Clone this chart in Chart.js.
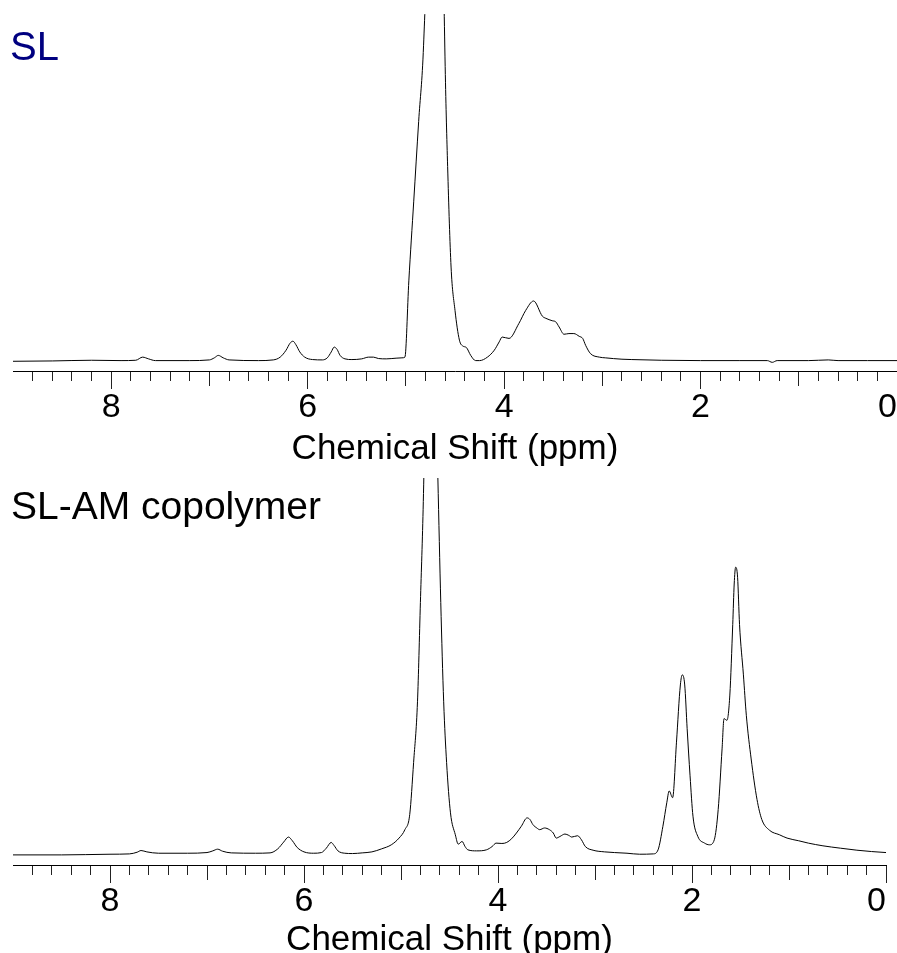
<!DOCTYPE html>
<html>
<head>
<meta charset="utf-8">
<script src="https://cdn.jsdelivr.net/npm/chart.js@4.4.1/dist/chart.umd.min.js"></script>
<style>
  html, body { margin: 0; padding: 0; background: #fff; overflow: hidden; }
  #page { position: relative; width: 897px; height: 953px; overflow: hidden; }
  .box { position: absolute; left: 0; width: 897px; }
  .lbl { position: absolute; font-family: "Liberation Sans", Arial, sans-serif; font-size: 40px; line-height: 40px; white-space: nowrap; z-index: 2; }
</style>
</head>
<body>
<div id="page">
  <div class="box" style="top:0;height:470px"><canvas id="slChart"></canvas></div>
  <div class="box" style="top:470px;height:491px"><canvas id="copChart"></canvas></div>
  <div class="lbl" style="left:10px;top:26px;color:#000080">SL</div>
  <div class="lbl" style="left:11px;top:486px;color:#000;font-size:39px">SL-AM copolymer</div>
</div>
<script>
// SL spectrum (ppm, intensity)
const slPpm = [9.0, 8.6, 8.2, 7.9, 7.75, 7.68, 7.62, 7.55, 7.2, 7.0, 6.95, 6.91, 6.86, 6.8, 6.5, 6.35, 6.28, 6.22, 6.18, 6.15,
  6.12, 6.08, 6.03, 5.95, 5.85, 5.8, 5.76, 5.73, 5.7, 5.67, 5.62, 5.55, 5.45, 5.38, 5.33, 5.28, 5.2, 5.1, 5.04, 5.01,
  4.97, 4.92, 4.87, 4.82, 4.78, 4.74, 4.7, 4.66, 4.63, 4.6, 4.575, 4.54, 4.5, 4.455, 4.42, 4.385, 4.34, 4.29, 4.25,
  4.17, 4.1, 4.05, 4.02, 3.95, 3.85, 3.78, 3.7, 3.61, 3.575, 3.51, 3.475, 3.44, 3.39, 3.34, 3.29, 3.235, 3.2, 3.17, 3.12,
  3.03, 2.97, 2.8, 2.7, 2.4, 2.0, 1.6, 1.32, 1.27, 1.22, 0.9, 0.7, 0.6, 0.3, 0.0];
const slInt = [-0.2, -0.1, 0.1, 0, 0.1, 1.0, 0.5, 0, 0, 0.2, 0.8, 1.5, 0.8, 0.2, 0, 0.2, 1.0, 3.0, 5.0, 5.6,
  4.6, 2.5, 1.0, 0.3, 0.2, 0.8, 2.5, 3.9, 3.2, 1.5, 0.5, 0.3, 0.5, 1.0, 1.0, 0.6, 0.5, 0.7, 0.8, 1.0,
  23, 46, 69, 91, 130, 220, 280, 230, 140, 84.8, 56, 27, 14.5, 5.9, 4.2, 3.8, 1.5, 0, 0,
  1.0, 3.0, 5.4, 6.8, 6.4, 10.7, 14.5, 17.2, 12.8, 12.2, 11.5, 11.2, 9.7, 7.6, 7.8, 7.8, 7.0, 6.4, 4.4, 2.0,
  1.0, 0.8, 0.4, 0.3, 0.1, 0, 0, 0, -0.5, 0, 0, 0.2, 0, 0, 0];

// SL-AM copolymer spectrum (ppm, intensity)
const copPpm = [9.0, 8.5, 8.0, 7.8, 7.72, 7.68, 7.62, 7.5, 7.2, 7.0, 6.94, 6.89, 6.84, 6.75, 6.5, 6.35, 6.27, 6.21, 6.16, 6.12,
  6.07, 6.0, 5.9, 5.82, 5.77, 5.72, 5.69, 5.65, 5.58, 5.5, 5.4, 5.3, 5.2, 5.1, 5.02, 4.96, 4.91, 4.87, 4.83, 4.8,
  4.77, 4.74, 4.7, 4.66, 4.62, 4.59, 4.56, 4.53, 4.49, 4.44, 4.41, 4.37, 4.34, 4.31, 4.22, 4.12, 4.06, 4.02, 3.96, 3.91,
  3.86, 3.81, 3.76, 3.7, 3.67, 3.64, 3.6, 3.57, 3.52, 3.47, 3.43, 3.4, 3.36, 3.31, 3.27, 3.24, 3.18, 3.14, 3.1, 3.02,
  2.9, 2.8, 2.67, 2.54, 2.4, 2.35, 2.3, 2.26, 2.235, 2.2, 2.16, 2.12, 2.1, 2.075, 2.05, 2.02, 1.99, 1.94, 1.87, 1.82,
  1.77, 1.73, 1.69, 1.67, 1.64, 1.61, 1.58, 1.565, 1.55, 1.53, 1.51, 1.47, 1.44, 1.39, 1.33, 1.28, 1.2, 1.1, 1.02, 0.9,
  0.8, 0.65, 0.47, 0.3, 0.15, 0.0];
const copInt = [0, 0, 0.2, 0.3, 0.8, 1.3, 0.9, 0.5, 0.5, 0.7, 1.2, 1.7, 1.1, 0.6, 0.5, 0.6, 1.8, 3.8, 5.3, 4.2,
  2.2, 0.9, 0.5, 0.7, 2.0, 3.7, 2.8, 1.2, 0.5, 0.4, 0.6, 0.9, 1.8, 3.0, 5.0, 7.5, 12, 27.5, 45.5, 75,
  105, 150, 200, 160, 112, 75, 45.5, 27.5, 12.5, 6, 3.2, 4.0, 2.5, 1.5, 1.2, 1.5, 2.5, 3.5, 3.4, 3.7,
  4.8, 6.5, 8.5, 11, 10.5, 9, 8.0, 7.5, 8.0, 7.5, 6.5, 5.0, 5.5, 6.2, 5.8, 5.3, 5.7, 4.5, 2.5, 1.4,
  0.9, 0.7, 0.5, 0.2, 0.3, 1.5, 8.5, 15.5, 19, 17, 33.5, 50.5, 53.5, 50.5, 37.5, 23.5, 11.5, 5.5, 3.5, 3.0,
  4.5, 13.5, 31.5, 40.5, 40, 47.5, 68.5, 80.5, 85.5, 82.5, 68.5, 53.5, 41.5, 28.5, 16.5, 10.5, 7.3, 6.0, 5.0, 4.2,
  3.5, 2.7, 2.0, 1.4, 1.0, 0.7];

// axis ticks: labelled every 2 ppm, marks every 0.2 ppm
const tickLabels = ['0', '2', '4', '6', '8'];
const tickValues = Array.from({ length: 45 }, (_, i) => Math.round(i * 2) / 10);

const FONT = '"Liberation Sans", Arial, sans-serif';

function tickDash(v) {
  const r = Math.round(v * 10) / 10;
  if (Math.abs(r - Math.round(r)) > 1e-6) return [9, 40];
  return Math.round(r) % 2 ? [14, 40] : [];
}

function tickLabel(v) {
  const r = Math.round(v * 10) / 10;
  const idx = tickLabels.indexOf(String(r));
  return idx >= 0 ? tickLabels[idx] : '';
}

function makeSpectrum(id, ppm, vals, yMin, yMax, pad, titlePadTop) {
  const ctx = document.getElementById(id);
  return new Chart(ctx, {
    type: 'line',
    data: {
      datasets: [{
        data: ppm.map((p, i) => ({ x: p, y: vals[i] })),
        borderColor: '#000',
        borderWidth: 1,
        pointRadius: 0,
        fill: false,
        cubicInterpolationMode: 'monotone',
        clip: 0
      }]
    },
    options: {
      responsive: true,
      maintainAspectRatio: false,
      animation: false,
      layout: { padding: pad },
      plugins: { legend: { display: false }, tooltip: { enabled: false } },
      scales: {
        x: {
          type: 'linear',
          reverse: true,
          min: 0,
          max: 9,
          afterBuildTicks: s => { s.ticks = tickValues.map(v => ({ value: v })); },
          grid: {
            drawOnChartArea: false,
            tickLength: 18,
            tickColor: '#222',
            tickWidth: 1,
            tickBorderDash: c => tickDash(c.tick ? c.tick.value : 0)
          },
          border: { display: true, color: '#000', width: 1 },
          ticks: {
            autoSkip: false,
            maxRotation: 0,
            align: 'inner',
            padding: 2,
            color: '#000',
            font: { family: FONT, size: 34, lineHeight: 1 },
            callback: v => tickLabel(v)
          },
          title: {
            display: true,
            text: 'Chemical Shift (ppm)',
            color: '#000',
            font: { family: FONT, size: 35, lineHeight: 1.2 },
            padding: { top: titlePadTop, bottom: 0 }
          }
        },
        y: { display: false, min: yMin, max: yMax }
      }
    }
  });
}

makeSpectrum('slChart', slPpm, slInt, -3, 100, { top: 14, left: 13, right: 0, bottom: 0 }, 1);
makeSpectrum('copChart', copPpm, copInt, -3, 112, { top: 8, left: 13, right: 11, bottom: 0 }, -2);
</script>
</body>
</html>
